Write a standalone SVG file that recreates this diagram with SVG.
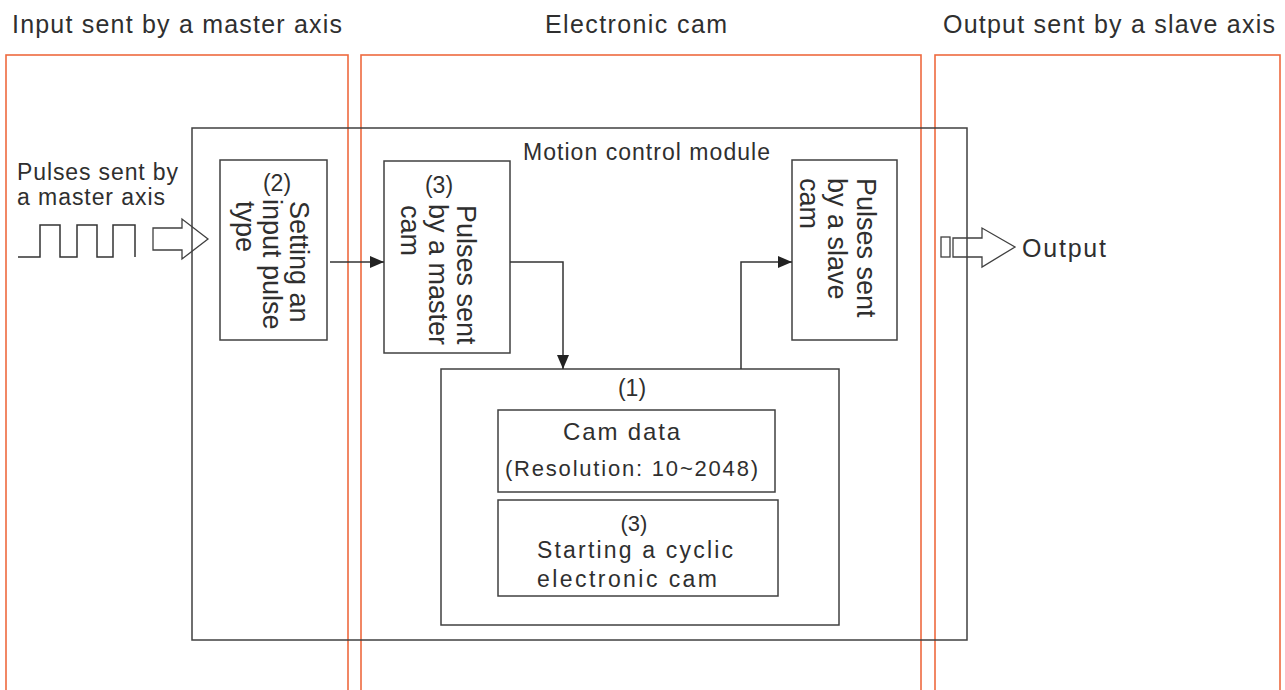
<svg xmlns="http://www.w3.org/2000/svg" width="1285" height="690" viewBox="0 0 1285 690">
<defs>
<style>
.zone{fill:none;stroke:#EE6A3F;stroke-width:1.6}
.box{fill:none;stroke:#404040;stroke-width:1.5}
.wire{fill:none;stroke:#333;stroke-width:1.5}
.barrow{fill:none;stroke:#404040;stroke-width:1.3}
text{font-family:"Liberation Sans",Arial,sans-serif;fill:#2f2f2f}
.hdr{font-size:25px}
.t23{font-size:23px}
.rot{font-size:27px}
</style>
<marker id="ah" viewBox="0 0 14 12" refX="14" refY="6" markerWidth="14" markerHeight="12" markerUnits="userSpaceOnUse" orient="auto">
<path d="M0,0 L14,6 L0,12 Z" fill="#222"/>
</marker>
</defs>
<rect width="1285" height="690" fill="#fff"/>

<g id="zones">
<rect class="zone" x="6" y="55" width="342" height="660"/>
<rect class="zone" x="361" y="55" width="560" height="660"/>
<rect class="zone" x="935" y="55" width="345" height="660"/>
<text class="hdr" x="12" y="33" textLength="330" lengthAdjust="spacing">Input sent by a master axis</text>
<text class="hdr" x="545" y="33" textLength="182" lengthAdjust="spacing">Electronic cam</text>
<text class="hdr" x="943" y="33" textLength="332" lengthAdjust="spacing">Output sent by a slave axis</text>
</g>

<g id="motion-module">
<rect class="box" x="192" y="128" width="775" height="512"/>
<text class="t23" x="523" y="160" textLength="247" lengthAdjust="spacing">Motion control module</text>
</g>

<g id="input-pulses">
<text class="t23" x="17" y="180" textLength="161" lengthAdjust="spacing">Pulses sent by</text>
<text class="t23" x="17" y="205" textLength="148" lengthAdjust="spacing">a master axis</text>
<path class="wire" d="M18,257 H40 V225 H60 V257 H77 V225 H97 V257 H113 V225 H135 V257"/>
<polygon class="barrow" points="153,228 182,228 182,219 208,239 182,259 182,250 153,250"/>
</g>

<g id="setting-input">
<rect class="box" x="220" y="160" width="107" height="180"/>
<text class="t23" x="277" y="191" text-anchor="middle">(2)</text>
<text class="rot" transform="translate(290,201) rotate(90)">Setting an</text>
<text class="rot" transform="translate(263,199) rotate(90)">input pulse</text>
<text class="rot" transform="translate(236,201) rotate(90)">type</text>
</g>

<g id="master-cam">
<rect class="box" x="384" y="161" width="126" height="192"/>
<text class="t23" x="439" y="193" text-anchor="middle">(3)</text>
<text class="rot" transform="translate(457,205) rotate(90)">Pulses sent</text>
<text class="rot" transform="translate(429,204) rotate(90)">by a master</text>
<text class="rot" transform="translate(401,205) rotate(90)">cam</text>
</g>

<g id="slave-cam">
<rect class="box" x="792" y="160" width="105" height="180"/>
<text class="rot" transform="translate(857,178) rotate(90)">Pulses sent</text>
<text class="rot" transform="translate(828,178) rotate(90)">by a slave</text>
<text class="rot" transform="translate(800,178) rotate(90)">cam</text>
</g>

<g id="cam-group">
<rect class="box" x="441" y="369" width="398" height="256"/>
<text class="t23" x="632" y="396" text-anchor="middle">(1)</text>
</g>

<g id="cam-data">
<rect class="box" x="498" y="410" width="277" height="82"/>
<text style="font-size:24px" x="563" y="440" textLength="117" lengthAdjust="spacing">Cam data</text>
<text style="font-size:22px" x="505" y="476" textLength="253" lengthAdjust="spacing">(Resolution: 10~2048)</text>
</g>

<g id="start-cam">
<rect class="box" x="498" y="500" width="280" height="96"/>
<text style="font-size:22px" x="634" y="531" text-anchor="middle">(3)</text>
<text class="t23" x="537" y="558" textLength="196" lengthAdjust="spacing">Starting a cyclic</text>
<text class="t23" x="537" y="587" textLength="180" lengthAdjust="spacing">electronic cam</text>
</g>

<g id="output">
<rect class="barrow" x="941" y="237" width="9" height="20"/>
<polygon class="barrow" points="953,238 982,238 982,228 1015,247 982,267 982,257 953,257"/>
<text style="font-size:25px" x="1022" y="257" textLength="84" lengthAdjust="spacing">Output</text>
</g>

<g id="connectors">
<path class="wire" d="M330,262 H384" marker-end="url(#ah)"/>
<path class="wire" d="M510,262 H563 V369" marker-end="url(#ah)"/>
<path class="wire" d="M741,369 V262 H792" marker-end="url(#ah)"/>
</g>
</svg>
